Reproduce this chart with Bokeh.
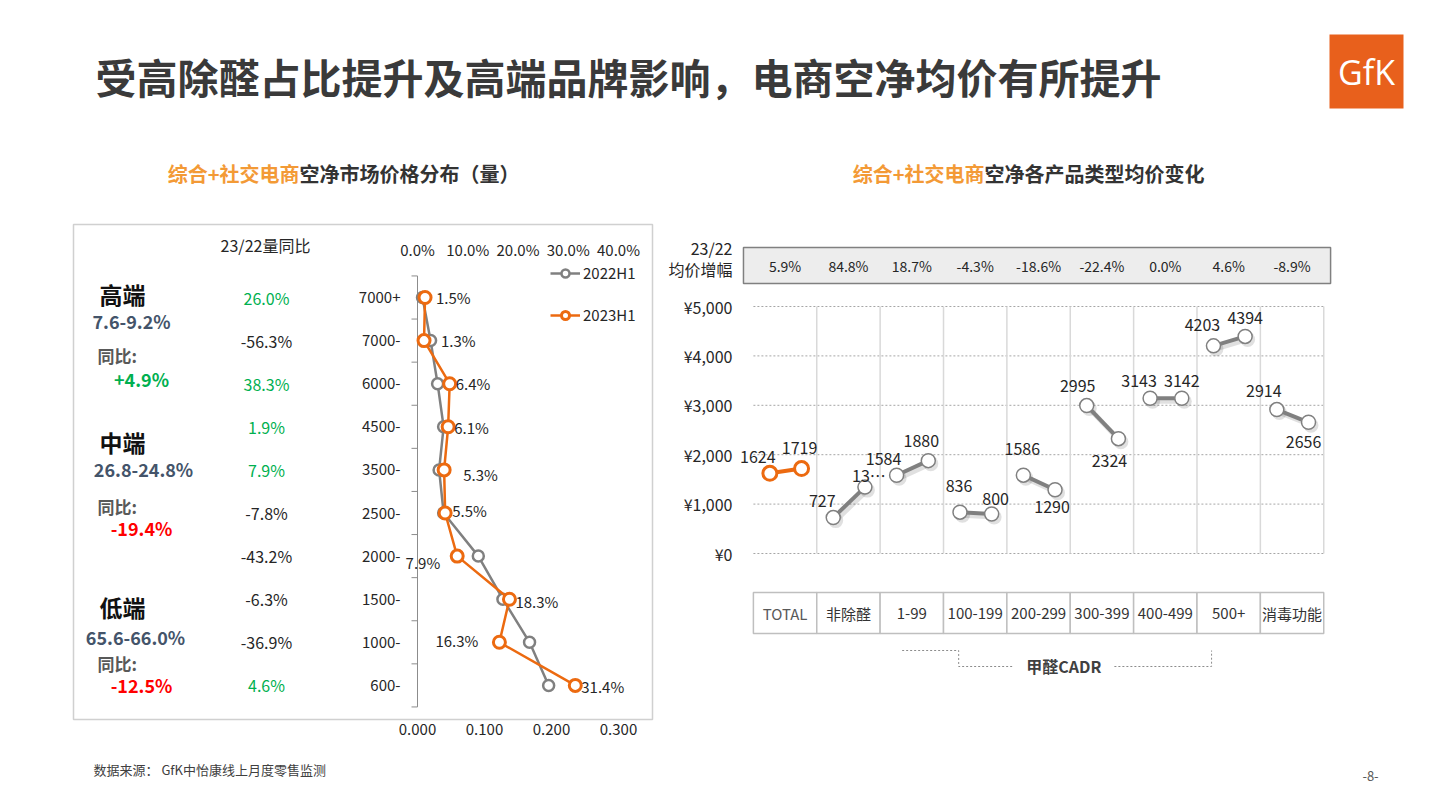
from bokeh.plotting import figure
from bokeh.models import (Range1d, LinearAxis, FixedTicker, ColumnDataSource,
                          Legend, LegendItem, PrintfTickFormatter, CustomJSTickFormatter)
from bokeh.layouts import column, row
from bokeh.core.properties import value, field
from bokeh.embed import file_html
from bokeh.resources import INLINE

# ---------------- data ----------------
title_text = "受高除醛占比提升及高端品牌影响，电商空净均价有所提升"
left_sub_hl = "综合+社交电商"
left_sub_rest = "空净市场价格分布（量）"
right_sub_hl = "综合+社交电商"
right_sub_rest = "空净各产品类型均价变化"

price_bands = ["7000+", "7000-", "6000-", "4500-", "3500-", "2500-", "2000-", "1500-", "1000-", "600-"]
share_2022 = [0.010, 0.026, 0.040, 0.052, 0.043, 0.052, 0.121, 0.170, 0.223, 0.261]
share_2023 = [0.015, 0.013, 0.064, 0.061, 0.053, 0.055, 0.079, 0.183, 0.163, 0.314]
volume_yoy = [26.0, -56.3, 38.3, 1.9, 7.9, -7.8, -43.2, -6.3, -36.9, 4.6]
series_names = ["2022H1", "2023H1"]
top_ticks = [0.0, 0.1, 0.2, 0.3, 0.4]
bottom_ticks = [0.0, 0.1, 0.2, 0.3]
yoy_header = "23/22量同比"

tier_names = ["高端", "中端", "低端"]
tier_share = ["7.6-9.2%", "26.8-24.8%", "65.6-66.0%"]
tier_yoy = ["+4.9%", "-19.4%", "-12.5%"]
tier_yoy_label = "同比:"

product_types = ["TOTAL", "非除醛", "1-99", "100-199", "200-299", "300-399", "400-499", "500+", "消毒功能"]
price_2022 = [1624, 727, 1584, 836, 1586, 2995, 3143, 4203, 2914]
price_2023 = [1719, 1344, 1880, 800, 1290, 2324, 3142, 4394, 2656]
price_change = ["5.9%", "84.8%", "18.7%", "-4.3%", "-18.6%", "-22.4%", "0.0%", "4.6%", "-8.9%"]
price_ticks = [0, 1000, 2000, 3000, 4000, 5000]
change_header = ["23/22", "均价增幅"]
cadr_label = "甲醛CADR"
source_note = "数据来源：  GfK中怡康线上月度零售监测"
page_no = "-8-"

# ---------------- style ----------------
FONT = "Noto Sans CJK SC"
FV = value(FONT)
DARK = "#262626"
GRAY = "#808080"
ORANGE = "#EC6A10"
HL = "#F39A36"
GREEN = "#00B050"
RED = "#FF0000"
SLATE = "#44546A"
LOGO = "#E8601C"


def canvas(w, h, **kw):
    p = figure(width=w, height=h, output_backend="svg", toolbar_location=None,
               x_axis_type=None, y_axis_type=None, **kw)
    p.outline_line_color = None
    p.background_fill_color = "white"
    p.border_fill_color = "white"
    return p


def txt(p, x, y, t, size, color=DARK, align="center", bold=False, **kw):
    p.text(x=x, y=y, text=t, text_font=FV, text_font_size=size, text_color=color,
           text_align=align, text_baseline="middle",
           text_font_style="bold" if bold else "normal", **kw)


# ---------------- header (page pixel coordinates) ----------------
hdr = canvas(1440, 208, x_range=Range1d(0, 1440), y_range=Range1d(208, 0),
             min_border_left=0, min_border_right=0, min_border_top=0, min_border_bottom=0)
txt(hdr, [95], [75], [title_text], "41px", "#3A3A3A", "left", True)
hdr.quad(left=[1329], right=[1403], top=[34], bottom=[108], fill_color=LOGO, line_color=None)
hdr.text(x=[1366], y=[71], text=["GfK"], text_font=value("Open Sans"), text_font_size="34px",
         text_color="white", text_align="center", text_baseline="middle")
txt(hdr, [299], [173], [left_sub_hl], "20px", HL, "right", True)
txt(hdr, [299], [173], [left_sub_rest], "20px", "#333333", "left", True)
txt(hdr, [984], [173], [right_sub_hl], "20px", HL, "right", True)
txt(hdr, [984], [173], [right_sub_rest], "20px", "#333333", "left", True)

BODY_TOP, BODY_H = 208, 552
FR_TOP, FR_BOT = 224, 719


# ---------------- left chart ----------------
def lx(px):
    return (px - 417) * 0.4 / 201


def ly(py):
    return (py - 297) / 43.1


left = canvas(665, BODY_H, x_range=Range1d(lx(73), lx(652)), y_range=Range1d(ly(FR_BOT), ly(FR_TOP)),
              min_border_left=73, min_border_right=13, min_border_top=FR_TOP - BODY_TOP,
              min_border_bottom=BODY_TOP + BODY_H - FR_BOT)
left.outline_line_color = "#D0D0D0"
left.outline_line_width = 1.5
left.extra_x_ranges = {"vol": Range1d(lx(73) * 0.75, lx(652) * 0.75)}
bax = LinearAxis(x_range_name="vol", ticker=FixedTicker(ticks=bottom_ticks),
                 formatter=PrintfTickFormatter(format="%.3f"))
bax.axis_line_color = None
bax.major_tick_line_color = None
bax.major_tick_out = 0
bax.major_tick_in = 0
bax.minor_tick_line_color = None
bax.major_label_standoff = 4
bax.major_label_text_font = FONT
bax.major_label_text_font_size = "15px"
bax.major_label_text_color = DARK
left.add_layout(bax, "below")

n = len(price_bands)
ys = list(range(n))
# category axis line and boundary ticks
left.segment(x0=[0], y0=[-0.5], x1=[0], y1=[n - 0.5], line_color="#8C8C8C", line_width=1)
bnd = [i - 0.5 for i in range(n + 1)]
left.segment(x0=[lx(411)] * (n + 1), y0=bnd, x1=[0] * (n + 1), y1=bnd, line_color="#8C8C8C", line_width=1)
txt(left, [0] * n, ys, price_bands, "15px", DARK, "right", x_offset=-17)
# top percent scale
txt(left, top_ticks, [ly(249)] * len(top_ticks), [f"{t * 100:.1f}%" for t in top_ticks], "15px")
# yoy column
txt(left, [lx(265)], [ly(244)], [yoy_header], "16px")
txt(left, [lx(266)] * n, ys, [f"{v:.1f}%" for v in volume_yoy], "16px",
    [GREEN if v > 0 else DARK for v in volume_yoy])
# tiers
tier_name_y = [293, 441, 606]
tier_share_pos = [(131, 320), (143, 468), (135, 636)]
tier_tb_y = [355, 506, 663]
tier_yoy_pos = [(141, 378), (141, 527), (141, 684)]
for k in range(3):
    txt(left, [lx(122)], [ly(tier_name_y[k])], [tier_names[k]], "23px", "#111111", bold=True)
    txt(left, [lx(tier_share_pos[k][0])], [ly(tier_share_pos[k][1])], [tier_share[k]], "18px", SLATE, bold=True)
    txt(left, [lx(97)], [ly(tier_tb_y[k])], [tier_yoy_label], "17px", "#595959", "left", True)
    c = GREEN if tier_yoy[k].startswith("+") else RED
    txt(left, [lx(tier_yoy_pos[k][0])], [ly(tier_yoy_pos[k][1])], [tier_yoy[k]], "18px", c, bold=True)

lab_dx = [11, 17, 6, 6, 19, 7, -17, 6, -21, 6]
lab_dy = [0, 0, 0, 1, 5, -3, 6, 2, -2, 1]
lab_al = ["left", "left", "left", "left", "left", "left", "right", "left", "right", "left"]
src = ColumnDataSource(dict(y=ys, s22=share_2022, s23=share_2023,
                            lab=[f"{v * 100:.1f}%" for v in share_2023],
                            dx=lab_dx, dy=lab_dy, al=lab_al))
g_line = left.line("s22", "y", source=src, line_color=GRAY, line_width=2.5)
g_pts = left.scatter("s22", "y", source=src, size=11, fill_color="white", line_color=GRAY, line_width=2.5)
o_line = left.line("s23", "y", source=src, line_color=ORANGE, line_width=2.5)
o_pts = left.scatter("s23", "y", source=src, size=12, fill_color="white", line_color=ORANGE, line_width=3)
left.text("s23", "y", text="lab", source=src, x_offset="dx", y_offset="dy", text_align=field("al"),
          text_baseline="middle", text_font=FV, text_font_size="15px", text_color=DARK)

# legend: screen offset from frame bottom-left
leg = Legend(items=[LegendItem(label=series_names[0], renderers=[g_line, g_pts]),
                    LegendItem(label=series_names[1], renderers=[o_line, o_pts])],
             location=(550 - 73, FR_BOT - 325))
leg.margin = 0
leg.padding = 0
leg.spacing = 21
leg.label_height = 20
leg.glyph_height = 20
leg.glyph_width = 30
leg.label_standoff = 3
leg.border_line_color = None
leg.background_fill_alpha = 0
leg.label_text_font = FONT
leg.label_text_font_size = "15px"
leg.label_text_color = DARK
left.add_layout(leg)


# ---------------- right chart ----------------
def rx(px):
    return (px - 748) / 63.9


def ry(py):
    return (553 - py) * 5000 / 247


m = len(product_types)
head_y = [round(ry(247)), round(ry(268))]
right = canvas(775, BODY_H, x_range=Range1d(rx(735), rx(1340)), y_range=Range1d(ry(FR_BOT), ry(FR_TOP)),
               min_border_left=70, min_border_right=100, min_border_top=FR_TOP - BODY_TOP,
               min_border_bottom=BODY_TOP + BODY_H - FR_BOT)
yax = LinearAxis(ticker=FixedTicker(ticks=price_ticks + head_y),
                 formatter=CustomJSTickFormatter(
                     args=dict(hy=head_y, ht=change_header),
                     code="const k = hy.indexOf(tick); if (k >= 0) { return ht[k]; }"
                          " return '¥' + Math.round(tick).toLocaleString('en-US');"))
yax.axis_line_color = None
yax.major_tick_line_color = None
yax.major_tick_out = 0
yax.major_tick_in = 0
yax.minor_tick_line_color = None
yax.major_label_standoff = 8
yax.major_label_text_font = FONT
yax.major_label_text_font_size = "16px"
yax.major_label_text_color = DARK
right.add_layout(yax, "left")

# grid
right.segment(x0=[0] * len(price_ticks), x1=[m] * len(price_ticks), y0=price_ticks, y1=price_ticks,
              line_color="#A6A6A6", line_width=1, line_dash="2 2")
right.segment(x0=list(range(1, m + 1)), x1=list(range(1, m + 1)), y0=[0] * m, y1=[price_ticks[-1]] * m,
              line_color="#D9D9D9", line_width=1.5)

# top change table
right.quad(left=[rx(738)], right=[rx(1330)], top=[ry(247)], bottom=[ry(283)],
           fill_color="#EDEDED", line_color="#808080", line_width=1.5)
txt(right, [i + 0.5 for i in range(m)], [ry(265)] * m, price_change, "14px")

# series
xa = [i + 0.26 for i in range(m)]
xb = [i + 0.76 for i in range(m)]
colors = [ORANGE] + [GRAY] * (m - 1)
sx = 2.5 / 63.9
sy = 3 * 5000 / 247
right.multi_line(xs=[[a + sx, b + sx] for a, b in zip(xa[1:], xb[1:])],
                 ys=[[p - sy, q - sy] for p, q in zip(price_2022[1:], price_2023[1:])],
                 line_color="black", line_alpha=0.12, line_width=5)
right.scatter(x=[v + sx for v in xa[1:] + xb[1:]], y=[v - sy for v in price_2022[1:] + price_2023[1:]],
              size=15, fill_color="black", fill_alpha=0.12, line_color=None)
right.multi_line(xs=[[a, b] for a, b in zip(xa, xb)], ys=[[p, q] for p, q in zip(price_2022, price_2023)],
                 line_color=colors, line_width=4)
right.scatter(x=xa + xb, y=price_2022 + price_2023, size=14, fill_color="white",
              line_color=colors + colors, line_width=[3] + [1.5] * (m - 1) + [3] + [1.5] * (m - 1))

lab22 = [str(v) for v in price_2022]
lab23 = [str(v) for v in price_2023]
lab23[1] = "13…"  # truncated in the source chart
dx22 = [-12, -11, -13, -1, -1, -9, -11, -11, -13]
dy22 = [-16, -17, -16, -26, -26, -20, -17, -21, -19]
dx23 = [-2, 4, -7, 4, -3, -9, 0, 0, -5]
dy23 = [-21, -12, -20, -15, 17, 22, -17, -18, 20]
rsrc = ColumnDataSource(dict(x=xa + xb, y=price_2022 + price_2023, t=lab22 + lab23,
                             dx=dx22 + dx23, dy=dy22 + dy23))
right.text("x", "y", text="t", source=rsrc, x_offset="dx", y_offset="dy", text_align="center",
           text_baseline="middle", text_font=FV, text_font_size="16px", text_color=DARK)

# bottom category table
right.quad(left=list(range(m)), right=list(range(1, m + 1)), top=[ry(592)] * m, bottom=[ry(633)] * m,
           fill_color="white", line_color="#BFBFBF", line_width=1.5)
txt(right, [i + 0.5 for i in range(m)], [ry(613)] * m, product_types, "15px",
    ["#595959"] + ["#333333"] * (m - 1))

# CADR bracket
right.multi_line(xs=[[rx(898), rx(955), rx(955), rx(1009)], [rx(1112), rx(1210), rx(1210)]],
                 ys=[[ry(650), ry(650), ry(666), ry(666)], [ry(666), ry(666), ry(650)]],
                 line_color="#8C8C8C", line_width=1, line_dash="2 2")
txt(right, [rx(1061)], [ry(665)], [cadr_label], "16px", "#404040", bold=True)

# ---------------- footer ----------------
ftr = canvas(1440, 40, x_range=Range1d(0, 1440), y_range=Range1d(800, 760),
             min_border_left=0, min_border_right=0, min_border_top=0, min_border_bottom=0)
txt(ftr, [93], [769], [source_note], "13px", "#404040", "left")
txt(ftr, [1370], [775], [page_no], "13px", "#595959")

page = column(hdr, row(left, right), ftr)
open("out.html", "w").write(file_html(page, INLINE))
